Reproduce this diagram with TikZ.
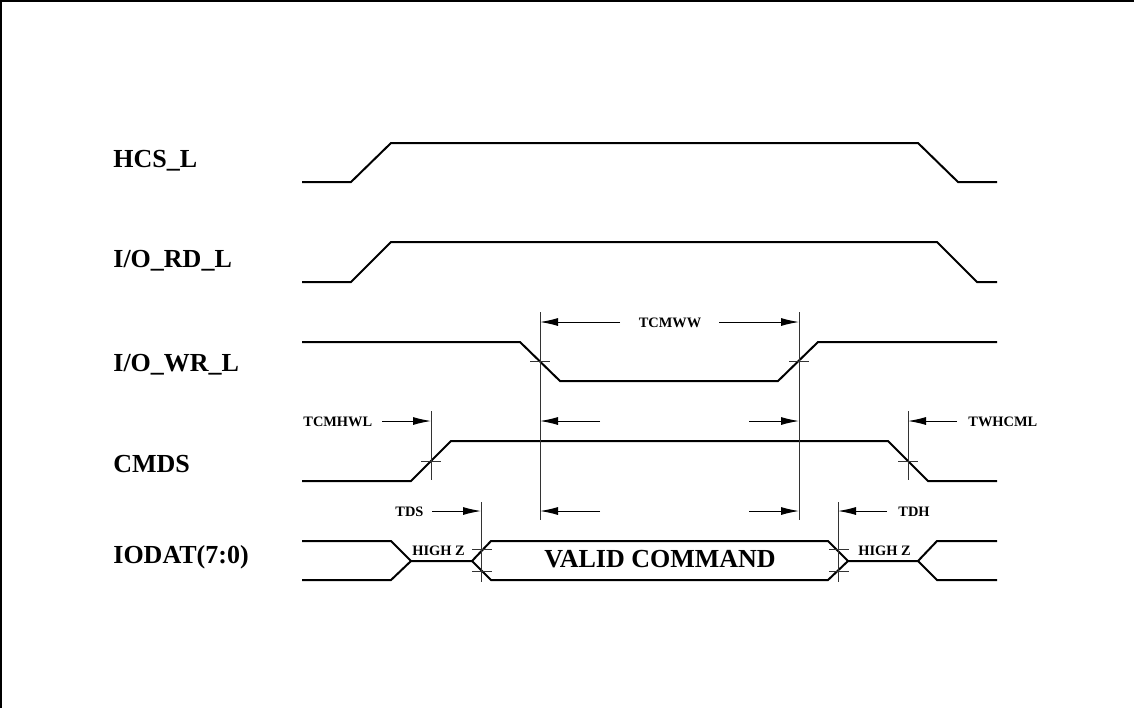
\documentclass[tikz,border=0pt]{standalone}
\usepackage{fontspec}
\setmainfont{Liberation Serif}
\usetikzlibrary{arrows.meta,positioning}

\begin{document}
\begin{tikzpicture}[x=0.5pt, y=-0.5pt,
    wave/.style={line width=1pt, line join=miter},
    guide/.style={line width=0.5pt, black!80},
    dimarr/.style={-{Latex[length=9pt,width=4pt]}, line width=0.5pt},
    sig/.style={font=\fontsize{13}{15}\selectfont\bfseries, anchor=base west, inner sep=0pt},
    tlbl/.style={font=\fontsize{7.2}{8}\selectfont\bfseries, inner sep=0pt},
    boxedge/.style={line width=1pt}
]
\useasboundingbox (0,0) rectangle (1134,708);
\draw[boxedge] (1,708) -- (1,1) -- (1134,1);

% signal names
\node[sig] (hcs)   at (113,167) {HCS\_L};
\node[sig] (iord)  at (113,267) {I/O\_RD\_L};
\node[sig] (iowr)  at (113,371) {I/O\_WR\_L};
\node[sig] (cmds)  at (113,472) {CMDS};
\node[sig] (iodat) at (113,563) {IODAT(7:0)};

% waveforms
\draw[wave] (302,182) -- (351,182) -- (391,143) -- (918,143) -- (958,182) -- (997,182);
\draw[wave] (302,282) -- (351,282) -- (391,242) -- (937,242) -- (977,282) -- (997,282);
\draw[wave] (302,342) -- (520,342) -- (560,381) -- (778,381) -- (818,342) -- (997,342);
\draw[wave] (302,481) -- (411,481) -- (451,441) -- (888,441) -- (928,481) -- (997,481);
\draw[wave] (302,541) -- (391,541) -- (411,561) -- (472,561) -- (491,541) -- (828,541)
    -- (848,561) -- (918,561) -- (937,541) -- (997,541);
\draw[wave] (302,580) -- (391,580) -- (411,561);
\draw[wave] (472,561) -- (491,580) -- (828,580) -- (848,561);
\draw[wave] (918,561) -- (937,580) -- (997,580);
\node[font=\fontsize{13}{15}\selectfont\bfseries, anchor=base, inner sep=0pt] (valid) at (660,567) {VALID COMMAND};
\node[tlbl, anchor=base west] (hizl) at (412,555) {HIGH Z};
\node[tlbl, anchor=base west] (hizr) at (858,555) {HIGH Z};

% reference lines and crossings
\draw[guide] (540,312) -- (540,520);
\draw[guide] (799,312) -- (799,520);
\draw[guide] (431,411) -- (431,480);
\draw[guide] (908,411) -- (908,480);
\draw[guide] (481,502) -- (481,582);
\draw[guide] (838,502) -- (838,582);
\foreach \x/\y in {540/361, 799/361, 431/461, 908/461, 482/549, 482/571, 839/549, 839/571}
    \draw[guide] (\x-10,\y) -- (\x+10,\y);

% timing labels
\node[tlbl, anchor=base] (tcmww) at (670,327) {TCMWW};
\node[tlbl, anchor=base west] (tcmhwl) at (303,426) {TCMHWL};
\node[tlbl, anchor=base west] (twhcml) at (968,426) {TWHCML};
\node[tlbl, anchor=base west] (tds) at (395,516) {TDS};
\node[tlbl, anchor=base west] (tdh) at (898,516) {TDH};

% dimension arrows
\draw[dimarr] (620,322) -- (540,322);
\draw[dimarr] (719,322) -- (799,322);
\draw[dimarr] (382,421) -- (431,421);
\draw[dimarr] (957,421) -- (908,421);
\draw[dimarr] (600,421) -- (540,421);
\draw[dimarr] (749,421) -- (799,421);
\draw[dimarr] (432,511) -- (481,511);
\draw[dimarr] (887,511) -- (838,511);
\draw[dimarr] (600,511) -- (540,511);
\draw[dimarr] (749,511) -- (799,511);
\end{tikzpicture}
\end{document}
